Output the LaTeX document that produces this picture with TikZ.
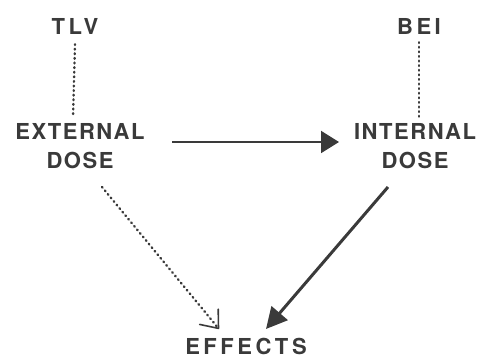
\documentclass[tikz,border=0pt]{standalone}
\usepackage{fontspec}
\setmainfont{TeX Gyre Heros}
\newfontfamily\lblA[LetterSpace=7]{TeX Gyre Heros Bold}
\newfontfamily\lblB[LetterSpace=16]{TeX Gyre Heros Bold}
\usetikzlibrary{arrows.meta}
\definecolor{ink}{HTML}{3a3a3a}
\begin{document}
\begin{tikzpicture}[x=1pt,y=-1pt,
  lab/.style={text=ink,inner sep=0pt,align=center,font=\lblA\fontsize{22}{29}\selectfont},
  labw/.style={text=ink,inner sep=0pt,align=center,font=\lblB\fontsize{22}{29}\selectfont},
  dotline/.style={draw=ink,line width=2.4pt,line cap=round,dash pattern=on 0.8pt off 3.8pt},
  solidarrow/.style={draw=ink,line width=3pt,-{Triangle[length=21pt,width=21pt]}},
  harrow/.style={draw=ink,line width=2pt,-{Triangle[length=18pt,width=22pt]}},
  dotarrow/.style={dotline,-{Straight Barb[length=15pt,width=24pt,line width=1.6pt,round]}}]
\useasboundingbox (0,0) rectangle (482,358);
\node[labw] (tlv) at (75,26) {TLV};
\node[labw] (bei) at (419,26) {BEI};
\node[lab] (ext) at (80,146) {EXTERNAL\\DOSE};
\node[lab] (int) at (415,146) {INTERNAL\\DOSE};
\node[labw] (eff) at (246,346) {EFFECTS};
\coordinate (hs) at (172,142);
\coordinate (he) at (339,142);
\draw[dotline] ([yshift=-10pt]tlv.south) -- ([xshift=-7pt,yshift=6pt]ext.north);
\draw[dotline] ([yshift=-8pt]bei.south) -- ([yshift=6pt]bei.south |- int.north);
\draw[harrow] (hs) -- (he);
\coordinate (ds) at (102,187);
\coordinate (dt) at (219,329);
\coordinate (ss) at (388,187);
\coordinate (st) at (266,329);
\draw[dotarrow] (ds) -- (dt);
\draw[solidarrow] (ss) -- (st);
\end{tikzpicture}
\end{document}
